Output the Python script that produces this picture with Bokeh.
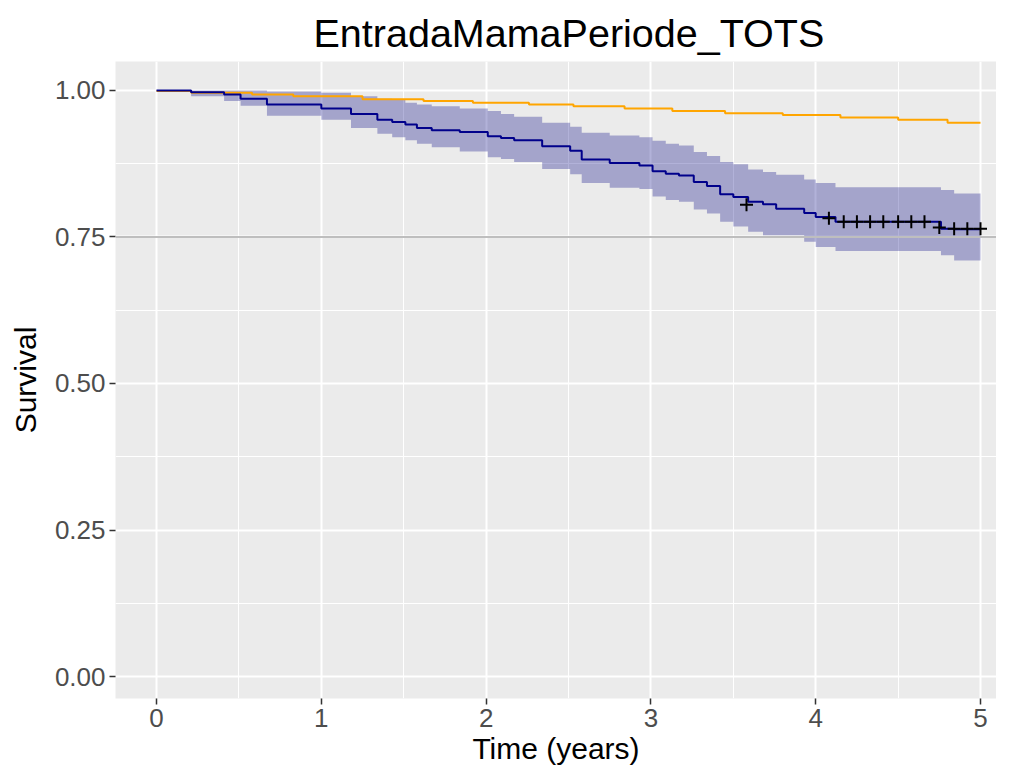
from bokeh.plotting import figure
from bokeh.models import Range1d, FixedTicker, Span
from bokeh.embed import file_html
from bokeh.resources import INLINE

# ---- data ----
km_time = [0.00, 0.21, 0.41, 0.51, 0.67, 1.00, 1.18, 1.34, 1.43, 1.51, 1.58, 1.67, 1.84,
           2.01, 2.09, 2.17, 2.34, 2.51, 2.58, 2.75, 2.93, 3.01, 3.09, 3.17, 3.26, 3.34,
           3.42, 3.50, 3.59, 3.68, 3.76, 3.93, 4.00, 4.12, 4.76, 4.84, 5.00]
km_surv = [1.000, 0.997, 0.993, 0.986, 0.976, 0.969, 0.960, 0.950, 0.946, 0.942, 0.936, 0.932, 0.929,
           0.922, 0.919, 0.915, 0.905, 0.897, 0.882, 0.876, 0.872, 0.862, 0.858, 0.855, 0.844, 0.837,
           0.823, 0.818, 0.810, 0.806, 0.798, 0.791, 0.784, 0.776, 0.764, 0.763, 0.763]
km_upper = [1.000, 1.000, 1.000, 1.000, 0.998, 0.996, 0.990, 0.986, 0.984, 0.979, 0.976, 0.973, 0.969,
            0.965, 0.960, 0.955, 0.945, 0.938, 0.928, 0.923, 0.920, 0.914, 0.909, 0.906, 0.895, 0.888,
            0.878, 0.874, 0.865, 0.861, 0.856, 0.848, 0.842, 0.835, 0.830, 0.824, 0.824]
km_lower = [1.000, 0.990, 0.982, 0.974, 0.957, 0.950, 0.936, 0.926, 0.920, 0.915, 0.909, 0.903, 0.896,
            0.886, 0.883, 0.878, 0.866, 0.857, 0.842, 0.834, 0.832, 0.819, 0.813, 0.810, 0.797, 0.790,
            0.776, 0.768, 0.759, 0.753, 0.753, 0.742, 0.733, 0.726, 0.719, 0.710, 0.710]

exp_time = [0.00, 0.21, 0.58, 0.83, 1.25, 1.62, 1.92, 2.26, 2.53, 2.84, 3.13, 3.45, 3.80,
            4.15, 4.50, 4.80, 5.00]
exp_surv = [0.999, 0.996, 0.993, 0.990, 0.985, 0.982, 0.979, 0.976, 0.973, 0.969, 0.965, 0.961, 0.958,
            0.954, 0.950, 0.945, 0.945]

cens_time = [3.58, 4.08, 4.17, 4.25, 4.33, 4.41, 4.50, 4.58, 4.66, 4.75, 4.84, 4.92, 5.00]
cens_surv = [0.805, 0.782, 0.776, 0.776, 0.776, 0.776, 0.776, 0.776, 0.776, 0.766, 0.764, 0.764, 0.764]

x_ticks = [0, 1, 2, 3, 4, 5]
x_minor = [0.5, 1.5, 2.5, 3.5, 4.5]
y_ticks = [0.0, 0.25, 0.5, 0.75, 1.0]
y_minor = [0.125, 0.375, 0.625, 0.875]
y_tick_labels = {0.0: "0.00", 0.25: "0.25", 0.5: "0.50", 0.75: "0.75", 1.0: "1.00"}

title_text = "EntradaMamaPeriode_TOTS"
x_title = "Time (years)"
y_title = "Survival"

FONT = "Liberation Sans"

p = figure(width=996, height=767, output_backend="svg", toolbar_location=None,
           x_range=Range1d(-0.249, 5.097), y_range=Range1d(-0.0375, 1.0494),
           min_border_left=115, min_border_right=0, min_border_top=61, min_border_bottom=61)

p.background_fill_color = "#EBEBEB"
p.border_fill_color = "white"
p.outline_line_color = None

p.title.text = title_text
p.title.text_font = FONT
p.title.text_font_size = "39.5px"
p.title.text_font_style = "normal"
p.title.align = "left"
p.title.offset = 198
p.title.standoff = 14
p.title.text_color = "black"

p.xaxis.ticker = FixedTicker(ticks=x_ticks, minor_ticks=x_minor)
p.yaxis.ticker = FixedTicker(ticks=y_ticks, minor_ticks=y_minor)
p.yaxis.major_label_overrides = y_tick_labels
p.xaxis.axis_label = x_title
p.yaxis.axis_label = y_title
for ax in (p.xaxis, p.yaxis):
    ax.axis_line_color = None
    ax.major_tick_line_color = "#333333"
    ax.major_tick_line_width = 1.5
    ax.major_tick_out = 6
    ax.major_tick_in = 0
    ax.minor_tick_out = 0
    ax.minor_tick_in = 0
    ax.major_label_text_font = FONT
    ax.major_label_text_font_size = "26px"
    ax.major_label_text_color = "#4D4D4D"
    ax.major_label_standoff = 4
    ax.axis_label_text_font = FONT
    ax.axis_label_text_font_size = "30px"
    ax.axis_label_text_font_style = "normal"
    ax.axis_label_text_color = "black"
    ax.axis_label_standoff = 2
p.yaxis.axis_label_standoff = 10

for g in (p.xgrid, p.ygrid):
    g.grid_line_color = "white"
    g.grid_line_width = 2
    g.minor_grid_line_color = "white"
    g.minor_grid_line_width = 1

# confidence ribbon
p.varea_step(x=km_time, y1=km_lower, y2=km_upper, step_mode="after",
             fill_color="#000080", fill_alpha=0.3)
# expected survival
p.step(x=exp_time, y=exp_surv, mode="after", line_color="#FFA500", line_width=2)
# Kaplan-Meier
p.step(x=km_time, y=km_surv, mode="after", line_color="#00008B", line_width=2)
# censor marks
p.scatter(x=cens_time, y=cens_surv, marker="cross", size=13, line_color="black", line_width=2)

p.add_layout(Span(location=0.75, dimension="width", line_color="#BEBEBE", line_width=2))

open("out.html", "w").write(file_html(p, INLINE))
